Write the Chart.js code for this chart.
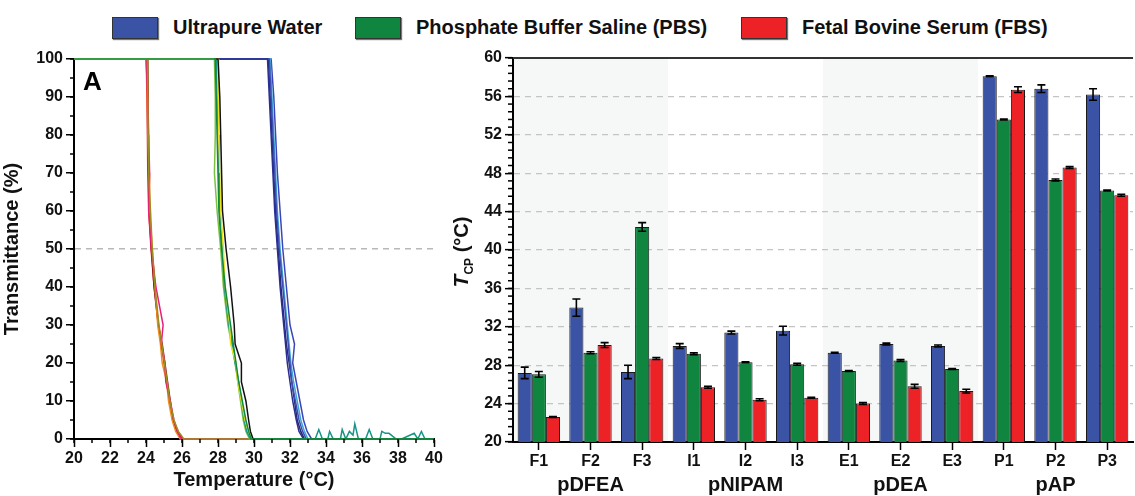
<!DOCTYPE html>
<html>
<head>
<meta charset="utf-8">
<script src="https://cdn.jsdelivr.net/npm/chart.js@4.4.1/dist/chart.umd.min.js"></script>
<style>
  body { margin: 0; width: 1135px; height: 496px; background: #fff; position: relative; overflow: hidden;
         font-family: "Liberation Sans", Arial, sans-serif; }
  #legend { position: absolute; top: 0; left: 0; width: 1135px; height: 44px; }
  .item { position: absolute; top: 16px; display: flex; align-items: center; font-weight: bold; font-size: 20px; color: #111; }
  .box { width: 44px; height: 20px; border: 1px solid #333; box-shadow: 1px 1px 1px #777; margin-right: 15px; }
  #wa { position: absolute; left: 0; top: 40px; width: 450px; height: 456px; }
  #wb { position: absolute; left: 440px; top: 40px; width: 695px; height: 456px; }
</style>
</head>
<body>
<div id="legend"></div>
<div id="wa"><canvas id="ca"></canvas></div>
<div id="wb"><canvas id="cb"></canvas></div>
<script>
// ---- panel B data ----
const samples = ['F1', 'F2', 'F3', 'I1', 'I2', 'I3', 'E1', 'E2', 'E3', 'P1', 'P2', 'P3'];
const polymers = ['pDFEA', 'pNIPAM', 'pDEA', 'pAP'];
const mediaNames = ['Ultrapure Water', 'Phosphate Buffer Saline (PBS)', 'Fetal Bovine Serum (FBS)'];
const mediaColors = ['#3a53a4', '#0f8540', '#ec2227'];

const tcpWater = [27.2, 34.0, 27.3, 30.0, 31.4, 31.6, 29.3, 30.2, 30.0, 58.1, 56.8, 56.2];
const tcpPBS   = [27.05, 29.3, 42.4, 29.2, 28.3, 28.1, 27.4, 28.5, 27.6, 53.6, 47.3, 46.2];
const tcpFBS   = [22.6, 30.1, 28.7, 25.7, 24.4, 24.6, 24.0, 25.8, 25.3, 56.7, 48.6, 45.7];
const errWater = [0.6, 0.9, 0.7, 0.25, 0.15, 0.45, 0.05, 0.1, 0.1, 0.05, 0.4, 0.6];
const errPBS   = [0.3, 0.1, 0.45, 0.1, 0.05, 0.1, 0.05, 0.1, 0.05, 0.05, 0.1, 0.05];
const errFBS   = [0.05, 0.25, 0.1, 0.1, 0.1, 0.05, 0.1, 0.2, 0.2, 0.3, 0.1, 0.1];

// ---- panel A data (temperature read at each transmittance level) ----
const levels = [100, 90, 80, 70, 60, 50, 40, 30, 25, 20, 15, 10, 5, 2, 0];
// first run of each group is drawn on top
const greenRuns = [
  [27.85, 27.9, 27.95, 28.0, 28.05, 28.2, 28.4, 28.7, 28.85, 29.0, 29.15, 29.35, 29.55, 29.7, 29.85],
  [28.0, 28.1, 28.15, 28.2, 28.25, 28.45, 28.7, 28.9, 28.95, 29.3, 29.3, 29.55, 29.7, 29.8, 29.95],
  [28.0, 28.02, 28.05, 28.1, 28.15, 28.3, 28.4, 28.65, 28.7, 29.0, 29.1, 29.3, 29.5, 29.7, 29.9],
  [27.9, 27.95, 28.0, 28.05, 28.1, 28.25, 28.35, 28.6, 28.8, 28.95, 29.15, 29.3, 29.45, 29.6, 29.8],
  [27.8, 27.85, 27.85, 27.8, 27.95, 28.15, 28.3, 28.55, 28.75, 28.95, 29.1, 29.25, 29.4, 29.55, 29.75]
];
const greenColors = ['#13893f', '#111111', '#e8e020', '#169a8c', '#7cc242'];
const redRuns = [
  [24.08, 24.1, 24.12, 24.15, 24.25, 24.35, 24.5, 24.72, 24.88, 25.02, 25.18, 25.32, 25.55, 25.8, 26.1],
  [24.0, 24.1, 24.15, 24.2, 24.15, 24.3, 24.55, 24.95, 24.85, 25.05, 25.1, 25.35, 25.55, 25.75, 25.95],
  [24.05, 24.08, 24.1, 24.18, 24.2, 24.35, 24.5, 24.65, 24.8, 24.9, 25.15, 25.25, 25.45, 25.65, 25.9],
  [24.1, 24.12, 24.1, 24.15, 24.2, 24.3, 24.45, 24.68, 24.9, 25.05, 25.2, 25.35, 25.5, 25.75, 26.05],
  [24.02, 24.05, 24.08, 24.1, 24.15, 24.28, 24.45, 24.7, 24.85, 25.0, 25.15, 25.3, 25.5, 25.7, 26.0]
];
const redColors = ['#9a8f22', '#e8207a', '#f08a1d', '#8b1a1a', '#e3262a'];
const blueRuns = [
  [30.75, 30.85, 30.95, 31.05, 31.15, 31.3, 31.45, 31.65, 31.75, 31.85, 32.0, 32.15, 32.35, 32.5, 32.75],
  [30.85, 30.95, 31.05, 31.15, 31.25, 31.4, 31.6, 31.8, 31.9, 32.0, 32.1, 32.3, 32.5, 32.7, 32.9],
  [30.9, 31.0, 31.1, 31.2, 31.3, 31.45, 31.65, 31.85, 31.95, 32.05, 32.2, 32.4, 32.6, 32.8, 33.0],
  [30.95, 31.1, 31.2, 31.3, 31.45, 31.6, 31.8, 32.0, 32.25, 32.15, 32.35, 32.55, 32.75, 32.95, 33.2],
  [30.8, 30.9, 31.0, 31.1, 31.2, 31.35, 31.5, 31.7, 31.8, 31.95, 32.1, 32.25, 32.4, 32.6, 32.8]
];
const blueColors = ['#2b2f8f', '#3c4fb0', '#3fa5d8', '#3a46b8', '#232878'];
const noiseT = [30.0, 33.4, 33.6, 33.8, 34.1, 34.2, 34.4, 34.8, 34.9, 35.1, 35.3, 35.5, 35.6, 35.8, 36.2, 36.4, 36.6, 37.0, 37.1, 37.3, 37.5, 37.9, 38.2, 38.9, 39.1, 39.3, 39.5, 40.0];
const noiseY = [0, 0, 2.5, 0, 0, 2, 0, 0, 2.5, 0, 2, 1, 4, 0, 0, 2.5, 0, 0, 2, 1.5, 1.5, 0, 0, 1.5, 0, 2, 0, 0];

// legend
const legend = document.getElementById('legend');
const legendLeft = [112, 355, 741];
mediaNames.forEach((name, i) => {
  const it = document.createElement('div');
  it.className = 'item';
  it.style.left = legendLeft[i] + 'px';
  it.innerHTML = `<div class="box" style="background:${mediaColors[i]}"></div><span>${name}</span>`;
  legend.appendChild(it);
});

// plugins
const minorTicks = {
  id: 'minorTicks',
  afterDraw(chart, args, opts) {
    const ctx = chart.ctx;
    ctx.save();
    ctx.strokeStyle = '#000';
    ctx.lineWidth = 1.5;
    for (const m of (opts.list || [])) {
      const s = chart.scales[m.axis];
      for (let v = s.min; v <= s.max + 1e-6; v += m.step) {
        const p = s.getPixelForValue(v);
        ctx.beginPath();
        if (s.isHorizontal()) { ctx.moveTo(p, s.top); ctx.lineTo(p, s.top + m.len); }
        else { ctx.moveTo(s.right, p); ctx.lineTo(s.right - m.len, p); }
        ctx.stroke();
      }
    }
    ctx.restore();
  }
};

const panelLetter = {
  id: 'panelLetter',
  afterDraw(chart, args, opts) {
    const ctx = chart.ctx;
    ctx.save();
    ctx.font = 'bold 26px "Liberation Sans", Arial';
    ctx.fillStyle = '#000';
    ctx.textBaseline = 'top';
    ctx.fillText(opts.text, chart.chartArea.left + 9, chart.chartArea.top + 11);
    ctx.restore();
  }
};

const bands = {
  id: 'bands',
  beforeDraw(chart) {
    const {ctx, chartArea, scales: {x}} = chart;
    const w = x.getPixelForValue(1) - x.getPixelForValue(0);
    ctx.save();
    ctx.fillStyle = '#f6f8f8';
    [0, 6].forEach(start => {
      const x0 = x.getPixelForValue(start) - w / 2;
      ctx.fillRect(x0, chartArea.top, w * 3, chartArea.bottom - chartArea.top);
    });
    ctx.restore();
  }
};

const errorBars = {
  id: 'errorBars',
  afterDatasetsDraw(chart) {
    const {ctx, scales: {y}} = chart;
    ctx.save();
    ctx.strokeStyle = '#000';
    ctx.lineWidth = 1.6;
    chart.data.datasets.forEach((ds, di) => {
      const meta = chart.getDatasetMeta(di);
      meta.data.forEach((bar, i) => {
        const v = ds.data[i], e = ds.errors[i];
        const yt = y.getPixelForValue(v + e), yb = y.getPixelForValue(v - e);
        ctx.beginPath();
        ctx.moveTo(bar.x, yt); ctx.lineTo(bar.x, yb);
        ctx.moveTo(bar.x - 4, yt); ctx.lineTo(bar.x + 4, yt);
        ctx.moveTo(bar.x - 4, yb); ctx.lineTo(bar.x + 4, yb);
        ctx.stroke();
      });
    });
    ctx.restore();
  }
};

const groupLabels = {
  id: 'groupLabels',
  afterDraw(chart) {
    const {ctx, scales: {x}} = chart;
    ctx.save();
    ctx.font = 'bold 20px "Liberation Sans", Arial';
    ctx.fillStyle = '#111';
    ctx.textAlign = 'center';
    ctx.textBaseline = 'middle';
    polymers.forEach((p, g) => ctx.fillText(p, x.getPixelForValue(g * 3 + 1), 445));
    // top frame line
    ctx.strokeStyle = '#333';
    ctx.lineWidth = 2;
    ctx.beginPath();
    ctx.moveTo(chart.chartArea.left, chart.chartArea.top);
    ctx.lineTo(chart.chartArea.right, chart.chartArea.top);
    ctx.stroke();
    // y title: T_CP (°C)
    const parts = [
      {t: 'T', f: 'italic bold 21px "Liberation Sans", Arial', dy: 0},
      {t: 'CP', f: 'bold 12px "Liberation Sans", Arial', dy: 5},
      {t: ' (°C)', f: 'bold 20px "Liberation Sans", Arial', dy: 0}
    ];
    let total = 0;
    parts.forEach(p => { ctx.font = p.f; p.w = ctx.measureText(p.t).width; total += p.w; });
    ctx.translate(28, 212);
    ctx.rotate(-Math.PI / 2);
    ctx.textAlign = 'left';
    ctx.textBaseline = 'alphabetic';
    let cx = -total / 2;
    parts.forEach(p => { ctx.font = p.f; ctx.fillText(p.t, cx, p.dy); cx += p.w; });
    ctx.restore();
  }
};

const tickFont = {family: '"Liberation Sans", Arial', size: 16, weight: 'bold'};

// ---- panel A ----
function runData(xs) {
  return [{x: 20, y: 100}, ...xs.map((t, i) => ({x: t, y: levels[i]})), {x: 40, y: 0}];
}
// Chart.js paints dataset 0 last, so the topmost lines go first
const dsA = [];
dsA.push({data: [{x: 30, y: 0}, {x: 40, y: 0}], borderColor: '#13893f'});
dsA.push({data: [{x: 20, y: 100}, {x: 27.8, y: 100}], borderColor: '#3aa84a'});
greenRuns.forEach((r, i) => dsA.push({data: runData(r), borderColor: greenColors[i]}));
dsA.push({data: noiseT.map((t, i) => ({x: t, y: noiseY[i]})), borderColor: '#16938a'});
redRuns.forEach((r, i) => dsA.push({data: runData(r), borderColor: redColors[i]}));
blueRuns.forEach((r, i) => dsA.push({data: runData(r), borderColor: blueColors[i]}));
dsA.forEach(d => { d.borderWidth = 1.5; d.pointRadius = 0; d.fill = false; d.tension = 0; d.clip = 5; });

new Chart(document.getElementById('ca'), {
  type: 'line',
  data: {datasets: dsA},
  options: {
    responsive: true,
    maintainAspectRatio: false,
    animation: false,
    layout: {padding: {top: 19, right: 16, left: 0, bottom: 0}},
    scales: {
      x: {
        type: 'linear', min: 20, max: 40,
        afterFit: s => { s.height = 57; },
        ticks: {stepSize: 2, color: '#111', font: tickFont, padding: 2, maxRotation: 0},
        grid: {drawOnChartArea: false, tickLength: 8, tickColor: '#000', tickWidth: 1.5},
        border: {color: '#000', width: 2},
        title: {display: true, text: 'Temperature (°C)', color: '#111',
                font: {family: '"Liberation Sans", Arial', size: 20, weight: 'bold'}, padding: {top: 0}}
      },
      y: {
        min: 0, max: 100,
        afterFit: s => { s.width = 74; },
        ticks: {stepSize: 10, color: '#111', font: tickFont, padding: 3},
        grid: {color: c => (c.tick && c.tick.value === 50 ? '#b8b8b8' : 'rgba(0,0,0,0)'), lineWidth: 1.5,
               tickLength: 8, tickColor: '#000', tickWidth: 1.5},
        border: {color: '#000', width: 2, dash: [6, 5]},
        title: {display: true, text: 'Transmittance (%)', color: '#111',
                font: {family: '"Liberation Sans", Arial', size: 20, weight: 'bold'}, padding: {top: 0, bottom: 0}}
      }
    },
    plugins: {
      legend: {display: false},
      tooltip: {enabled: false},
      minorTicks: {list: [{axis: 'x', step: 1, len: 4}, {axis: 'y', step: 5, len: 4}]},
      panelLetter: {text: 'A'}
    }
  },
  plugins: [minorTicks, panelLetter]
});

// ---- panel B ----
new Chart(document.getElementById('cb'), {
  type: 'bar',
  data: {
    labels: samples,
    datasets: [tcpWater, tcpPBS, tcpFBS].map((vals, i) => ({
      label: mediaNames[i],
      data: vals,
      errors: [errWater, errPBS, errFBS][i],
      backgroundColor: mediaColors[i],
      borderColor: '#1a1a1a',
      borderWidth: 1,
      categoryPercentage: 0.82,
      barPercentage: 1
    }))
  },
  options: {
    responsive: true,
    maintainAspectRatio: false,
    animation: false,
    layout: {padding: {top: 18, right: 2, left: 0, bottom: 0}},
    scales: {
      x: {
        afterFit: s => { s.height = 54; },
        ticks: {color: '#111', font: tickFont, padding: 2, maxRotation: 0},
        grid: {offset: false, drawOnChartArea: false, tickLength: 8, tickColor: '#000', tickWidth: 1.5},
        border: {color: '#000', width: 2}
      },
      y: {
        min: 20, max: 60,
        afterFit: s => { s.width = 73; },
        ticks: {stepSize: 4, color: '#111', font: tickFont, padding: 3},
        grid: {color: c => (c.tick && c.tick.value > 20 && c.tick.value < 60 ? '#c4c4c4' : 'rgba(0,0,0,0)'),
               lineWidth: 1.3, tickLength: 8, tickColor: '#000', tickWidth: 1.5},
        border: {color: '#000', width: 2, dash: [6, 5]}
      }
    },
    plugins: {
      legend: {display: false},
      tooltip: {enabled: false},
      minorTicks: {list: [{axis: 'y', step: 0.8, len: 5}]}
    }
  },
  plugins: [bands, errorBars, minorTicks, groupLabels]
});
</script>
</body>
</html>
